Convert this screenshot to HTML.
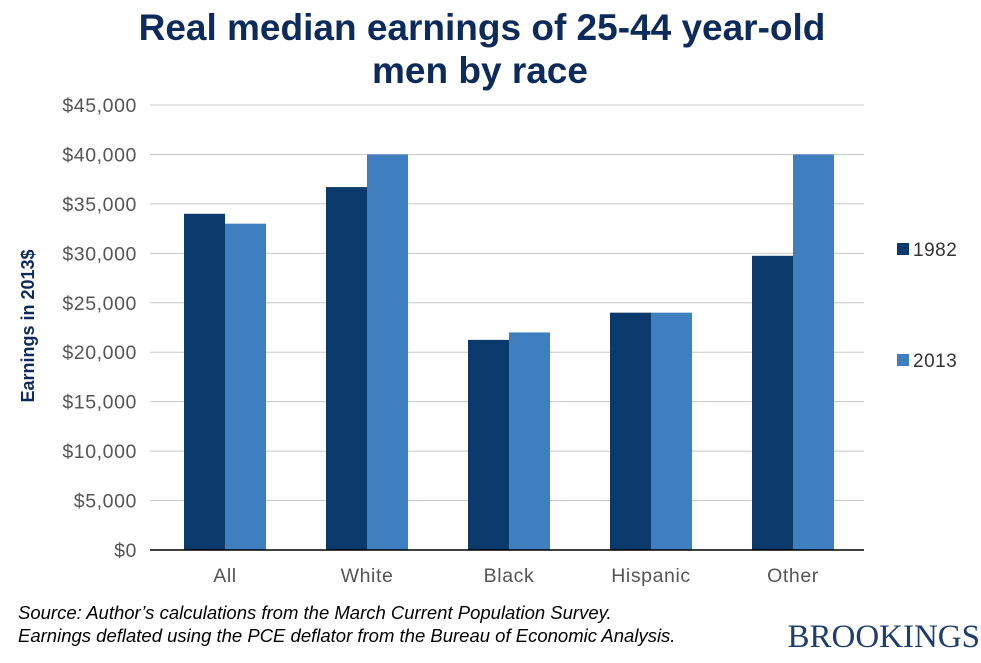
<!DOCTYPE html>
<html><head><meta charset="utf-8"><style>
body{margin:0;background:#fff;width:981px;height:658px;overflow:hidden;font-family:"Liberation Sans",sans-serif}
</style></head><body>
<svg width="981" height="658" id="c">
<text x="482" y="40" text-anchor="middle" font-size="37" font-weight="bold" fill="#0c2a5b">Real median earnings of 25-44 year-old</text>
<text x="480" y="83" text-anchor="middle" font-size="37" font-weight="bold" fill="#0c2a5b">men by race</text>
<text transform="translate(34,326) rotate(-90)" text-anchor="middle" font-size="18" font-weight="bold" fill="#0c2a5b">Earnings in 2013$</text>
<g id="grid"></g><g id="bars"></g><g id="labels"></g>
<rect x="897" y="243" width="12" height="12" fill="#0a3a6b"/>
<text x="913" y="256" font-size="19" letter-spacing="0.5" fill="#333">1982</text>
<rect x="897" y="354" width="12" height="12" fill="#3f7fbf"/>
<text x="913" y="367" font-size="19" letter-spacing="0.5" fill="#333">2013</text>
<text x="18" y="619" font-size="18.5" font-style="italic" fill="#000">Source: Author’s calculations from the March Current Population Survey.</text>
<text x="18" y="642" font-size="18.5" font-style="italic" fill="#000">Earnings deflated using the PCE deflator from the Bureau of Economic Analysis.</text>
<text x="980" y="647" text-anchor="end" font-family="Liberation Serif,serif" font-size="33" fill="#1f3d6e">BROOKINGS</text>
</svg>
<script>
const categories=["All","White","Black","Hispanic","Other"];
const values1982=[34000,36700,21250,24000,29750];
const values2013=[33000,40000,22000,24000,40000];
const ticks=[0,5000,10000,15000,20000,25000,30000,35000,40000,45000];
const ns="http://www.w3.org/2000/svg";
const x0=154,x1=864,y0=550,y1=105,vmax=45000;
const y=v=>y0-(v/vmax)*(y0-y1);
const bw=(x1-x0)/categories.length;
const g=document.getElementById('grid'),b=document.getElementById('bars'),l=document.getElementById('labels');
function mk(t,a){const e=document.createElementNS(ns,t);for(const k in a)e.setAttribute(k,a[k]);return e;}
ticks.forEach(t=>{
 const ln=mk('line',{x1:150,x2:x1,y1:y(t),y2:y(t),stroke:'#c8c8c8','stroke-width':1});
 
 
 g.appendChild(ln);
 const tx=mk('text',{x:137,y:y(t)+7,'text-anchor':'end','font-size':19.5,'letter-spacing':0.6,fill:'#555'});
 tx.textContent='$'+t.toLocaleString('en-US');
 
 
 l.appendChild(tx);
});
categories.forEach((c,i)=>{
 const cx=x0+bw*(i+0.5);
 const r1=mk('rect',{x:cx-41,y:y(values1982[i]),width:41,height:y0-y(values1982[i]),fill:'#0a3a6b'});
 
 
 b.appendChild(r1);
 const r2=mk('rect',{x:cx,y:y(values2013[i]),width:41,height:y0-y(values2013[i]),fill:'#3f7fbf'});
 
 
 b.appendChild(r2);
 const tx=mk('text',{x:cx,y:582,'text-anchor':'middle','font-size':19.5,'letter-spacing':0.6,fill:'#555'});
 tx.textContent=c;
 
 
 l.appendChild(tx);
});
const ax=mk('line',{x1:150,x2:x1,y1:y0,y2:y0,stroke:'#000','stroke-width':1.5});


g.parentNode.appendChild(ax);
</script>
</body></html>
